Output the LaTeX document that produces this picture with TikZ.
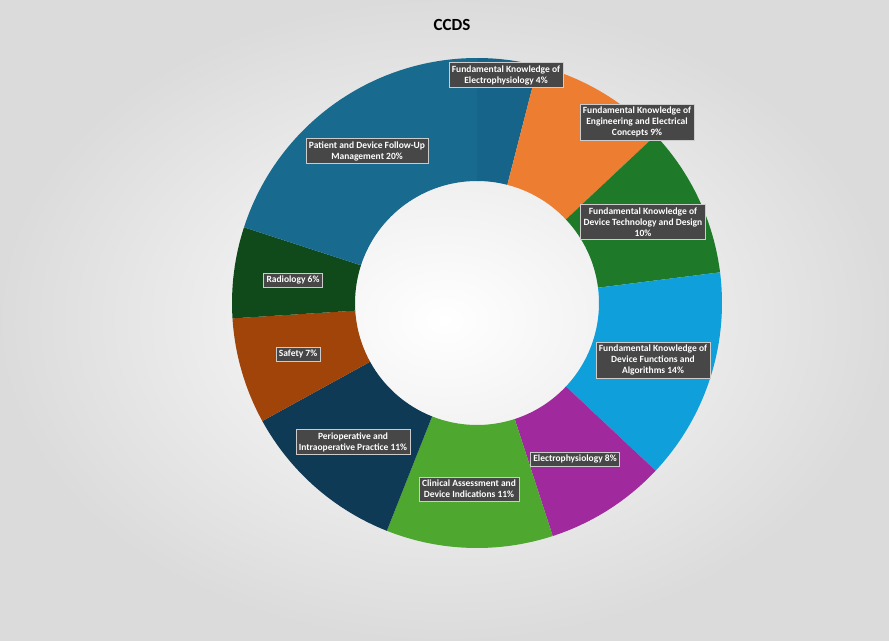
\documentclass[tikz,border=0pt]{standalone}
\usepackage{fontspec}
\setmainfont{Carlito}
\definecolor{cA}{HTML}{17648A}
\definecolor{cB}{HTML}{ED7D31}
\definecolor{cC}{HTML}{1E7A28}
\definecolor{cD}{HTML}{0FA0DC}
\definecolor{cE}{HTML}{A0299E}
\definecolor{cF}{HTML}{4EA72E}
\definecolor{cG}{HTML}{0E3A55}
\definecolor{cH}{HTML}{A0440A}
\definecolor{cI}{HTML}{104A1B}
\definecolor{cJ}{HTML}{186A8F}
\tikzset{lab/.style={fill=black!72,draw=white!80!black,line width=0.6pt,text=white,font=\bfseries\fontsize{9.5}{11}\selectfont,align=center,inner sep=3pt}}
\begin{document}
\begin{tikzpicture}[x=1pt,y=-1pt]
\shade[inner color=white,outer color=black!14] (0,0) rectangle (889,640);
\node[font=\bfseries\fontsize{17}{20}\selectfont] (title) at (452,25) {CCDS};
\coordinate (c) at (477,303);
\foreach \a/\b/\col in {0/4/cA,4/13/cB,13/23/cC,23/37/cD,37/45/cE,45/56/cF,56/67/cG,67/74/cH,74/80/cI,80/100/cJ}{
 \pgfmathsetmacro\sa{-90+3.6*\a}
 \pgfmathsetmacro\ea{-90+3.6*\b}
 \fill[\col] ([shift={(\sa:245)}]c) arc[start angle=\sa,end angle=\ea,radius=245]
   -- ([shift={(\ea:122)}]c) arc[start angle=\ea,end angle=\sa,radius=122] -- cycle;
}
\node[lab] (l1) at (506,75) {Fundamental Knowledge of\\Electrophysiology 4\%};
\node[lab] (l2) at (637,122) {Fundamental Knowledge of\\Engineering and Electrical\\Concepts 9\%};
\node[lab] (l3) at (643,222) {Fundamental Knowledge of\\Device Technology and Design\\10\%};
\node[lab] (l4) at (653,360) {Fundamental Knowledge of\\Device Functions and\\Algorithms 14\%};
\node[lab] (l5) at (575,459) {Electrophysiology 8\%};
\node[lab] (l6) at (469,489) {Clinical Assessment and\\Device Indications 11\%};
\node[lab] (l7) at (353,442) {Perioperative and\\Intraoperative Practice 11\%};
\node[lab] (l8) at (298,354) {Safety 7\%};
\node[lab] (l9) at (293,280) {Radiology 6\%};
\node[lab] (l10) at (367,151) {Patient and Device Follow-Up\\Management 20\%};
\end{tikzpicture}
\end{document}
